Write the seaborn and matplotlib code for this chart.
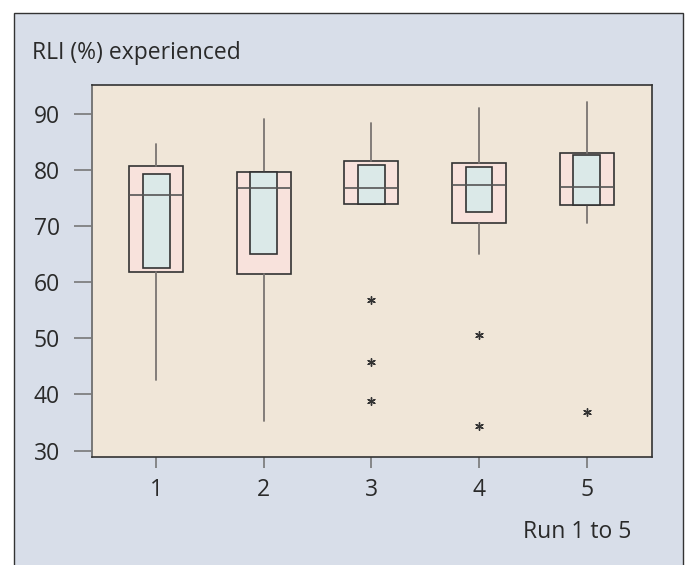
import matplotlib.pyplot as plt
import seaborn as sns
from matplotlib.patches import Rectangle

# --- DATA ---
runs = [1, 2, 3, 4, 5]
whisker_low = [42.6, 35.3, 73.9, 65.1, 70.5]
q1 = [61.8, 61.5, 73.9, 70.6, 73.8]
median = [75.5, 76.8, 76.8, 77.4, 77.0]
q3 = [80.7, 79.6, 81.6, 81.2, 83.1]
whisker_high = [84.7, 89.2, 88.5, 91.1, 92.1]
ci_low = [62.5, 65.0, 73.9, 72.5, 73.8]
ci_high = [79.3, 79.6, 80.9, 80.5, 82.7]
outlier_run = [3, 3, 3, 4, 4, 5]
outlier_value = [56.9, 45.7, 38.9, 50.6, 34.3, 36.8]
y_ticks = [30, 40, 50, 60, 70, 80, 90]

# --- COLOURS ---
PANEL = "#d8dee9"
PLOT_BG = "#f0e6d8"
BOX_FILL = "#f8e2dc"
CI_FILL = "#dbe9e8"
DARK = "#333333"
GREY = "#7a7572"
TEXT = "#2a2a2a"

sns.set_theme(style="white")
plt.rcParams['font.family'] = ['Open Sans', 'DejaVu Sans']

fig = plt.figure(figsize=(6.87, 5.65), dpi=100)

# outer blue panel with frame (behind the axes)
fig.patches.append(Rectangle((0.0204, -0.05), 0.9733, 1.027, transform=fig.transFigure,
                             facecolor=PANEL, edgecolor=DARK, linewidth=1.0, zorder=-1))

ax = fig.add_axes([0.1339, 0.1917, 0.8147, 0.6579])
ax.set_zorder(1)
ax.set_facecolor(PLOT_BG)

stats = []
for i in range(len(runs)):
    stats.append({'whislo': whisker_low[i], 'q1': q1[i], 'med': median[i],
                  'q3': q3[i], 'whishi': whisker_high[i], 'fliers': []})

ax.bxp(stats, positions=runs, widths=0.5, patch_artist=True, showcaps=False,
       showfliers=False,
       boxprops=dict(facecolor=BOX_FILL, edgecolor=DARK, linewidth=1.2),
       whiskerprops=dict(color=GREY, linewidth=1.3),
       medianprops=dict(color="#555555", linewidth=1.2, zorder=4))

# inner (median confidence) boxes
ax.bar(runs, [h - l for h, l in zip(ci_high, ci_low)], bottom=ci_low, width=0.25,
       color=CI_FILL, edgecolor=DARK, linewidth=1.2, zorder=2.5)

# outliers
sns.scatterplot(x=outlier_run, y=outlier_value, marker=(6, 2, 0), s=30,
                color=DARK, edgecolor=DARK, linewidth=1.0, ax=ax, zorder=5)

ax.set_xlim(0.405, 5.604)
ax.set_ylim(28.9, 95.2)
ax.set_xticks(runs)
ax.set_xticklabels([str(r) for r in runs])
ax.set_yticks(y_ticks)

for side in ['top', 'right', 'bottom']:
    ax.spines[side].set_color(DARK)
    ax.spines[side].set_linewidth(1.2)
ax.spines['left'].set_color("#777777")
ax.spines['left'].set_linewidth(1.4)

ax.tick_params(axis='y', which='major', direction='out', length=13, width=1.2,
               color="#777777", pad=10, labelsize=16.5, labelcolor=TEXT, left=True)
ax.tick_params(axis='x', which='major', direction='out', length=8, width=1.2,
               color="#777777", pad=7, labelsize=16.5, labelcolor=TEXT, bottom=True)

fig.text(0.0466, 0.906, "RLI (%) experienced", ha='left', va='center',
         fontsize=16.5, color=TEXT)
fig.text(0.9185, 0.0584, "Run 1 to 5", ha='right', va='center',
         fontsize=16.5, color=TEXT)

fig.savefig("out.png", dpi=100, facecolor="white")
